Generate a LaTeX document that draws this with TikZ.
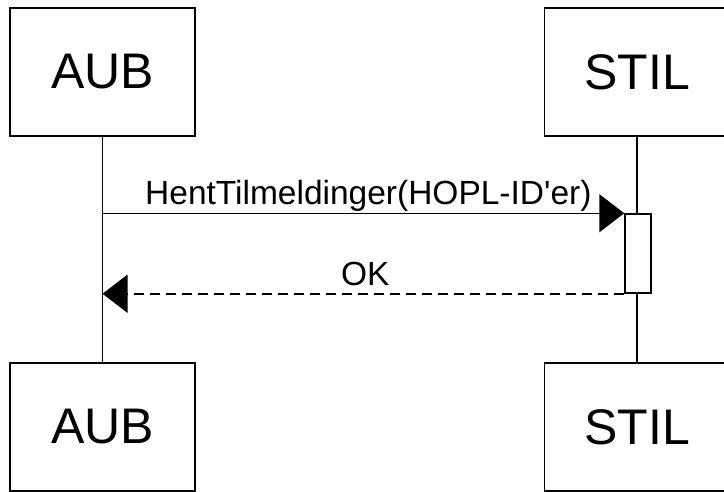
\documentclass[tikz,border=0pt]{standalone}
\usepackage{fontspec}
\setmainfont{Liberation Sans}
\usetikzlibrary{arrows.meta}

\tikzset{
	actor/.style={draw,line width=1.5pt,minimum width=185pt,minimum height=128pt,inner sep=0pt,font=\fontsize{50}{56}\selectfont},
	actbar/.style={draw,line width=1.5pt,fill=white,minimum width=26pt,minimum height=79pt,inner sep=0pt},
	msg/.style={line width=1.5pt,-{Triangle[length=25pt,width=38pt]}},
	reply/.style={msg,dash pattern=on 10pt off 6pt},
	msglabel/.style={above,inner sep=1pt,text depth=7pt,font=\fontsize{33.5}{38}\selectfont}
}

\begin{document}
\begin{tikzpicture}[x=1pt,y=-1pt]
	\useasboundingbox (0,0) rectangle (724,491);
	\node[actor] (aubtop) at (102.5,72) {AUB};
	\node[actor] (stiltop) at (637,72) {STIL};
	\node[actor] (aubbot) at (102.5,427) {AUB};
	\node[actor] (stilbot) at (637,427) {STIL};
	% lifelines
	\draw[line width=1.5pt] (aubtop) -- (aubbot);
	\draw[line width=1.5pt] (stiltop) -- (stilbot);
	\node[actbar] (act) at (638,253.5) {};
	\coordinate (callstart) at (aubtop.south |- act.north);
	\coordinate (replyend) at (aubtop.south |- act.south);
	\draw[msg] (callstart) -- node[msglabel,xshift=5pt] {HentTilmeldinger(HOPL-ID\textquotesingle er)} (act.north west);
	\draw[reply] (act.south west) -- node[msglabel,xshift=2pt] {OK} (replyend);
\end{tikzpicture}
\end{document}
